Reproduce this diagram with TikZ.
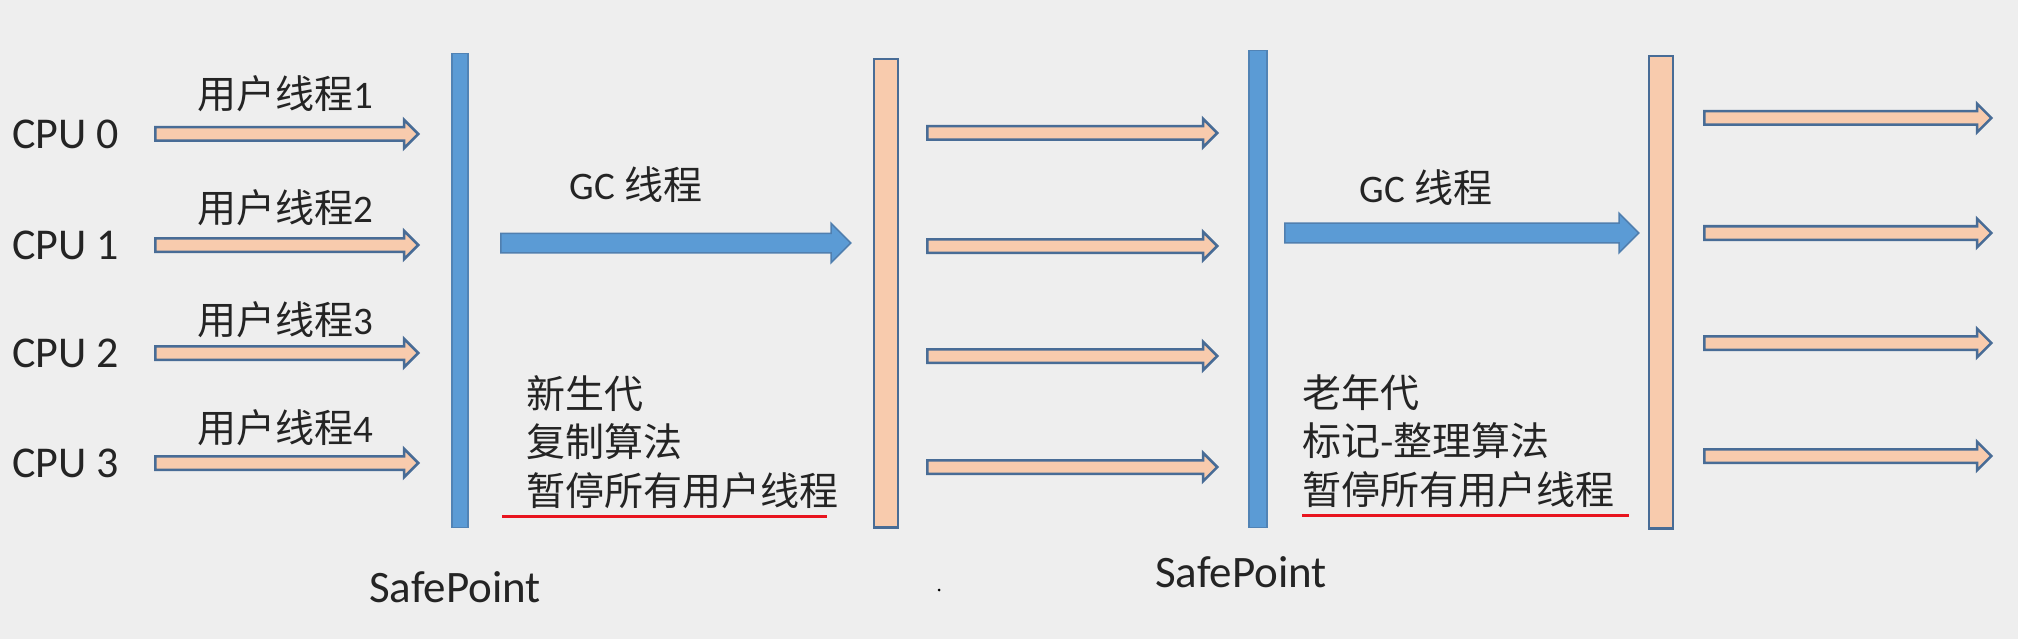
\documentclass[tikz,border=0pt]{standalone}
\usepackage{fontspec}
\setmainfont{Carlito}
\newfontfamily\cjk{Noto Sans CJK SC}
\usepackage{tikz}
\usetikzlibrary{shapes.arrows,positioning}
\definecolor{gcbg}{RGB}{238,238,238}
\definecolor{gcblue}{RGB}{91,155,213}
\definecolor{gcedge}{RGB}{72,108,150}
\definecolor{gcpeach}{RGB}{248,203,173}
\definecolor{gcred}{RGB}{232,20,30}
\definecolor{gctext}{RGB}{36,36,36}

\begin{document}
\begin{tikzpicture}[x=1pt,y=-1pt,every node/.style={text=gctext,inner sep=0pt},
    cpu/.style={font=\fontsize{44}{52}\selectfont,anchor=west},
    lbl/.style={font=\fontsize{39}{48}\selectfont},
    note/.style={font=\fontsize{39}{48.5}\selectfont\cjk,align=left,anchor=north west},
    thread/.style={single arrow,draw=gcedge,fill=gcpeach,line width=2.5pt,inner xsep=0pt,inner ysep=5.5pt,
      single arrow head extend=7.5pt,single arrow head indent=0pt,single arrow tip angle=90,anchor=tail},
    gcarrow/.style={single arrow,draw=gcedge!60!gcblue,fill=gcblue,line width=1.5pt,inner xsep=0pt,inner ysep=9pt,
      single arrow head extend=10pt,single arrow head indent=0pt,single arrow tip angle=90,anchor=tail},
    stopbar/.style={draw=gcedge!50!gcblue,fill=gcblue,line width=1.2pt,minimum width=16pt,anchor=north},
    runbar/.style={draw=gcedge,fill=gcpeach,line width=2.5pt,minimum width=24pt,anchor=north}]
  \fill[gcbg] (0,0) rectangle (2018,639);
  \useasboundingbox (0,0) rectangle (2018,639);

  % user threads before the first safepoint
  \foreach \c/\n/\y/\ly in {0/1/134/94,1/2/245/208,2/3/353/320,3/4/463/428}{
    \node[cpu] (cpu\c) at (12,\y) {CPU \c};
    \node[thread,minimum height=263pt] (ua\c) at (154,\y) {};
    \node[lbl] (ul\c) at (285,\ly) {{\cjk 用户线程}\n};
  }

  % safepoint bars and resumed threads
  \node[stopbar,minimum height=474pt] (sp1) at (460,53) {};
  \node[runbar,minimum height=468pt] (rs1) at (886,58) {};
  \node[stopbar,minimum height=477pt,minimum width=18pt] (sp2) at (1258,50) {};
  \node[runbar,minimum height=472pt] (rs2) at (1661,55) {};

  \foreach \i/\y in {0/133,1/246,2/356,3/467}
    \node[thread,minimum height=290pt] (ma\i) at (926,\y) {};
  \foreach \i/\y in {0/118,1/233,2/343,3/456}
    \node[thread,minimum height=287pt] (ra\i) at (1703,\y) {};

  % gc threads
  \node[gcarrow,minimum height=350pt] (gc1) at (500,243) {};
  \node[lbl] (gl1) at (636,185) {GC {\cjk 线程}};
  \node[gcarrow,minimum height=354pt] (gc2) at (1284,233) {};
  \node[lbl] (gl2) at (1426,188) {GC {\cjk 线程}};

  \node[note] (young) at (526,375) {新生代\\复制算法\\暂停所有用户线程};
  \node[note] (old) at (1302,374) {老年代\\标记-整理算法\\暂停所有用户线程};
  \draw[gcred,line width=3pt] (502,516) -- (827,516);
  \draw[gcred,line width=3pt] (1302,515) -- (1629,515);

  \node[font=\fontsize{45}{54}\selectfont,below=43pt of sp1,xshift=-5pt] (safe1) {SafePoint};
  \node[font=\fontsize{45}{54}\selectfont,below=28pt of sp2,xshift=-17pt] (safe2) {SafePoint};
  \fill[black] (939,590) circle (1.5pt);
\end{tikzpicture}
\end{document}
